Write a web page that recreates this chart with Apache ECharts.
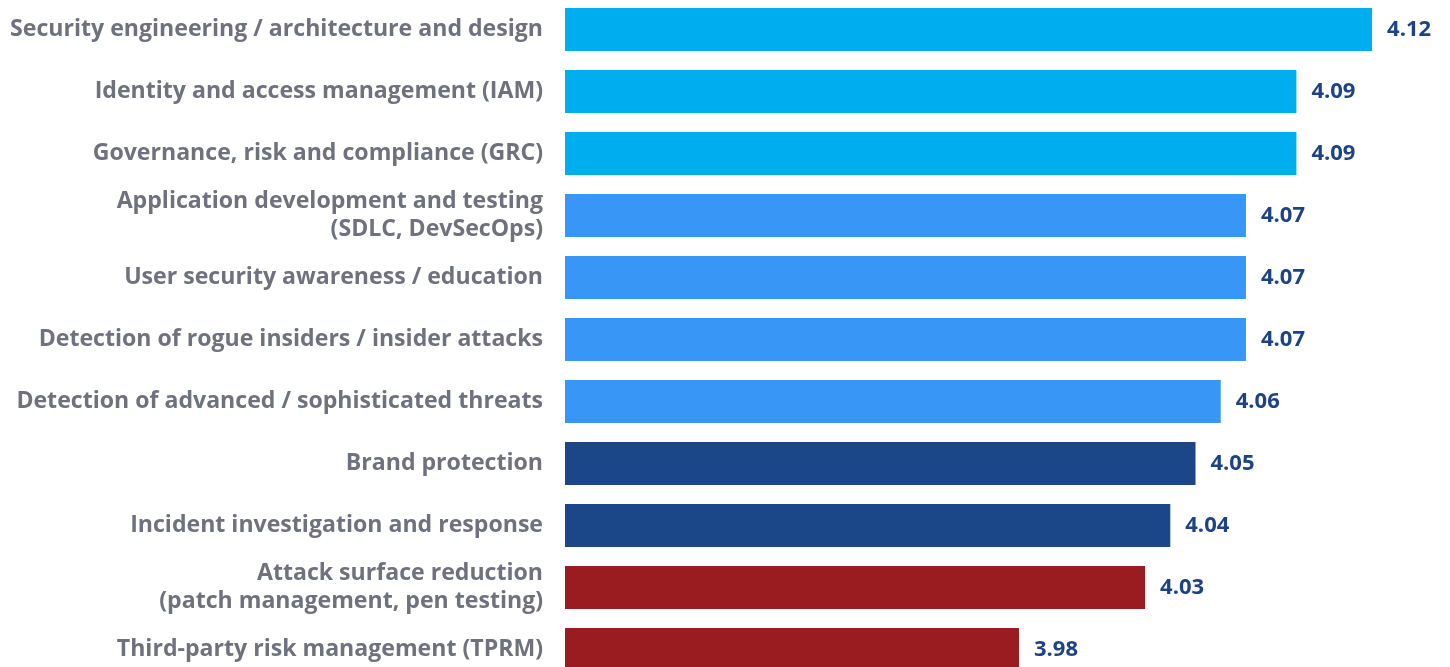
<!DOCTYPE html>
<html>
<head>
<meta charset="utf-8">
<script src="https://cdn.jsdelivr.net/npm/echarts@6/dist/echarts.min.js"></script>
<style>
html,body{margin:0;padding:0;background:#fff;}
#chart{width:1450px;height:667px;}
</style>
</head>
<body>
<div id="chart"></div>
<script>
const categories = [
  "Security engineering / architecture and design",
  "Identity and access management (IAM)",
  "Governance, risk and compliance (GRC)",
  "Application development and testing\n(SDLC, DevSecOps)",
  "User security awareness / education",
  "Detection of rogue insiders / insider attacks",
  "Detection of advanced / sophisticated threats",
  "Brand protection",
  "Incident investigation and response",
  "Attack surface reduction\n(patch management, pen testing)",
  "Third-party risk management (TPRM)"
];
const values = [4.12, 4.09, 4.09, 4.07, 4.07, 4.07, 4.06, 4.05, 4.04, 4.03, 3.98];
const groups = [0, 0, 0, 1, 1, 1, 1, 2, 2, 3, 3];
const groupColors = ["#00AEEF", "#3796F6", "#1B4688", "#9A1B20"];

const chart = echarts.init(document.getElementById('chart'), null, {renderer: 'canvas'});
chart.setOption({
  animation: false,
  backgroundColor: '#ffffff',
  grid: {left: 565, right: 27.5, top: -1.5, bottom: -13.5, containLabel: false, outerBoundsMode: 'none'},
  xAxis: {
    type: 'value', min: 3.8, max: 4.14,
    show: false
  },
  yAxis: {
    type: 'category', data: categories, inverse: true,
    axisLine: {show: false}, axisTick: {show: false}, splitLine: {show: false},
    axisLabel: {
      margin: 22, color: '#6F727E', fontFamily: 'Open Sans', fontWeight: 'bold',
      fontSize: 23.1, lineHeight: 28, align: 'right'
    }
  },
  series: [{
    type: 'bar',
    barWidth: 43,
    data: values.map((v, i) => ({value: v, itemStyle: {color: groupColors[groups[i]]}})),
    label: {
      show: true, position: 'right', distance: 15,
      color: '#1D4386', fontFamily: 'Open Sans', fontWeight: 'bold', fontSize: 22,
      formatter: p => p.value.toFixed(2)
    }
  }]
});
</script>
</body>
</html>
